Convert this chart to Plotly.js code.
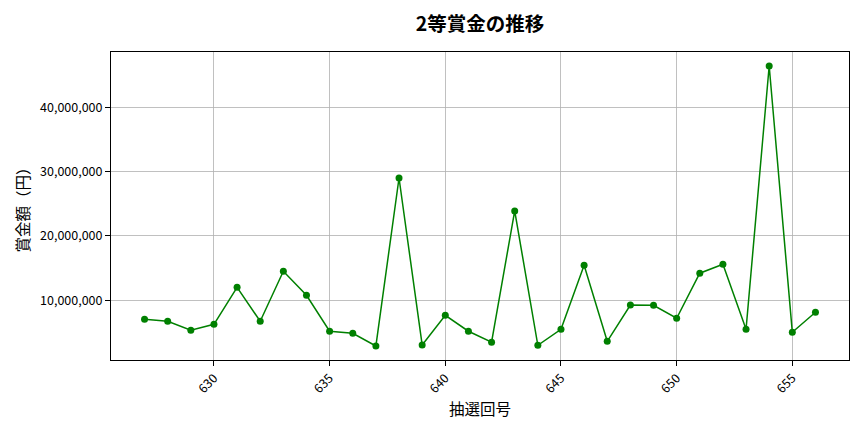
<!DOCTYPE html>
<html>
<head>
<meta charset="utf-8">
<script src="https://cdn.plot.ly/plotly-3.0.1.min.js"></script>
<style>
  html, body { margin: 0; padding: 0; background: #fff; }
  #chart { width: 864px; height: 432px; }
</style>
</head>
<body>
<div id="chart"></div>
<script>
// 抽選回号
const rounds = [627, 628, 629, 630, 631, 632, 633, 634, 635, 636,
                637, 638, 639, 640, 641, 642, 643, 644, 645, 646,
                647, 648, 649, 650, 651, 652, 653, 654, 655, 656];

// 2等賞金 (円)
const prizes = [7040000, 6730000, 5330000, 6260000, 12000000, 6730000, 14500000, 10770000, 5180000, 4870000,
                2890000, 29000000, 3050000, 7660000, 5180000, 3470000, 23880000, 3000000, 5490000, 15430000,
                3620000, 9260000, 9200000, 7200000, 14200000, 15600000, 5490000, 46400000, 5020000, 8130000];

const xTicks = [630, 635, 640, 645, 650, 655];
const yTicks = [10000000, 20000000, 30000000, 40000000];

const FONT = "'Noto Sans CJK JP', 'DejaVu Sans', sans-serif";

const trace = {
  x: rounds,
  y: prizes,
  type: "scatter",
  mode: "lines+markers",
  line: { color: "#008000", width: 1.5 },
  marker: { color: "#008000", size: 7 },
  hoverinfo: "x+y"
};

const layout = {
  width: 864,
  height: 432,
  paper_bgcolor: "#ffffff",
  plot_bgcolor: "#ffffff",
  font: { family: FONT, color: "#000000", size: 12 },
  margin: { l: 111, r: 15, t: 52, b: 72 },
  showlegend: false,
  title: {
    text: "<b>2等賞金の推移</b>",
    font: { family: FONT, size: 19.5, color: "#000000" },
    x: 0.5556,
    xanchor: "center",
    y: 0.945,
    yanchor: "middle"
  },
  xaxis: {
    title: { text: "抽選回号", font: { family: FONT, size: 15.5 }, standoff: 8 },
    range: [625.55, 657.45],
    tickmode: "array",
    tickvals: xTicks,
    ticktext: xTicks.map(String),
    tickangle: -45,
    ticks: "outside",
    ticklen: 5,
    tickcolor: "#000",
    showgrid: true,
    gridcolor: "#b0b0b0",
    gridwidth: 0.8,
    zeroline: false,
    showline: true,
    linecolor: "#000",
    linewidth: 1,
    mirror: true,
    tickfont: { family: FONT, size: 12.5 }
  },
  yaxis: {
    title: { text: "賞金額（円）", font: { family: FONT, size: 15.5 }, standoff: 6 },
    range: [710000, 48580000],
    tickmode: "array",
    tickvals: yTicks,
    ticktext: yTicks.map(v => v.toLocaleString("en-US")),
    ticks: "outside",
    ticklen: 5,
    tickcolor: "#000",
    showgrid: true,
    gridcolor: "#b0b0b0",
    gridwidth: 0.8,
    zeroline: false,
    showline: true,
    linecolor: "#000",
    linewidth: 1,
    mirror: true,
    tickfont: { family: FONT, size: 12.5 }
  }
};

Plotly.newPlot("chart", [trace], layout, { displayModeBar: false, staticPlot: true });
</script>
</body>
</html>
